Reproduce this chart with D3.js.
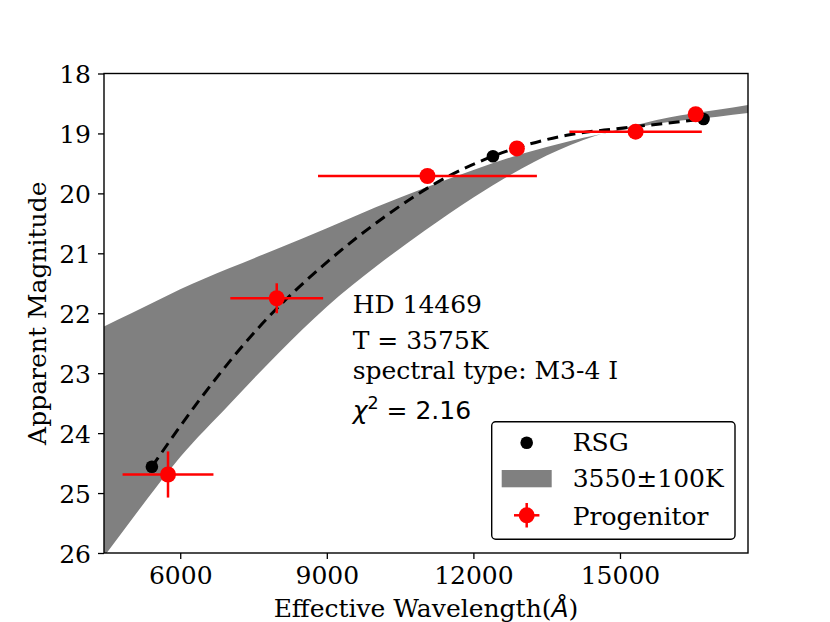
<!DOCTYPE html>
<html>
<head>
<meta charset="utf-8">
<script src="https://cdn.jsdelivr.net/npm/d3@7"></script>
<style>
  body { margin: 0; background: #fff; }
  svg { display: block; font-family: "DejaVu Serif", serif; }
</style>
</head>
<body>
<div id="chart"></div>
<script>
// progenitor photometry (red, with error bars)
const progWave = [5750, 7975, 11060, 12890, 15320, 16550];
const progMag = [24.69, 21.75, 19.71, 19.25, 18.97, 18.68];
const progWaveErr = [930, 950, 2240, 0, 1355, 0];
const progMagErr = [0.385, 0.25, 0, 0, 0, 0];

// RSG photometry (black)
const rsgWave = [5420, 12400, 16710];
const rsgMag = [24.56, 19.38, 18.76];

// dashed fit curve
const fitWave = [5420, 6400, 7560, 9130, 10150, 11450, 12400, 13910, 14930, 15960, 16710];
const fitMag = [24.56, 23.44, 22.28, 21.06, 20.41, 19.73, 19.38, 19.03, 18.92, 18.83, 18.76];

// 3550±100K band, two edges sampled on a common wavelength grid
const bandWave = [4440, 5000, 5500, 6000, 7000, 8000, 9000, 10000, 11000, 12000, 13000, 14000, 14500, 15000, 16000, 17000, 17620];
const bandEdgeA = [22.22, 22.00, 21.80, 21.60, 21.25, 20.92, 20.58, 20.23, 19.91, 19.61, 19.34, 19.12, 19.03, 18.95, 18.81, 18.72, 18.66];
const bandEdgeB = [26.06, 25.45, 24.91, 24.40, 23.525, 22.675, 21.89, 21.225, 20.625, 20.07, 19.58, 19.19, 19.04, 18.93, 18.735, 18.605, 18.525];

const xTicks = [6000, 9000, 12000, 15000];
const yTicks = [18, 19, 20, 21, 22, 23, 24, 25, 26];

const width = 830, height = 622;
const margin = {top: 73.5, right: 82, bottom: 69, left: 104};
const fontSize = 25;

const svg = d3.select('#chart').append('svg')
  .attr('width', width)
  .attr('height', height);

svg.append('rect').attr('width', width).attr('height', height).attr('fill', '#fff');

const x = d3.scaleLinear()
  .domain([4440, 17620])
  .range([margin.left, width - margin.right]);
const y = d3.scaleLinear()
  .domain([18, 26])
  .range([margin.top, height - margin.bottom]);

svg.append('clipPath').attr('id', 'plot-clip')
  .append('rect')
  .attr('x', x.range()[0]).attr('y', y.range()[0])
  .attr('width', x.range()[1] - x.range()[0])
  .attr('height', y.range()[1] - y.range()[0]);

const plot = svg.append('g').attr('clip-path', 'url(#plot-clip)');

//
// Band
//
const band = d3.area()
  .x((d, i) => x(bandWave[i]))
  .y0((d, i) => y(bandEdgeA[i]))
  .y1((d, i) => y(bandEdgeB[i]))
  .curve(d3.curveMonotoneX);

plot.append('path')
  .datum(bandWave)
  .attr('d', band)
  .attr('fill', '#808080');

//
// Dashed fit
//
const fitLine = d3.line()
  .x((d, i) => x(fitWave[i]))
  .y((d, i) => y(fitMag[i]))
  .curve(d3.curveMonotoneX);

plot.append('path')
  .datum(fitWave)
  .attr('d', fitLine)
  .attr('fill', 'none')
  .attr('stroke', '#000')
  .attr('stroke-width', 3)
  .attr('stroke-dasharray', '11,6.5');

//
// RSG points
//
plot.selectAll('.rsg')
  .data(rsgWave)
  .enter().append('circle')
  .attr('class', 'rsg')
  .attr('cx', d => x(d))
  .attr('cy', (d, i) => y(rsgMag[i]))
  .attr('r', 6.3)
  .attr('fill', '#000');

//
// Progenitor with error bars
//
const prog = plot.selectAll('.prog')
  .data(progWave.map((w, i) => ({w, m: progMag[i], xe: progWaveErr[i], ye: progMagErr[i]})))
  .enter().append('g')
  .attr('class', 'prog');

prog.filter(d => d.xe > 0).append('line')
  .attr('x1', d => x(d.w - d.xe))
  .attr('x2', d => x(d.w + d.xe))
  .attr('y1', d => y(d.m))
  .attr('y2', d => y(d.m))
  .attr('stroke', '#ff0000')
  .attr('stroke-width', 2.5);

prog.filter(d => d.ye > 0).append('line')
  .attr('x1', d => x(d.w))
  .attr('x2', d => x(d.w))
  .attr('y1', d => y(d.m - d.ye))
  .attr('y2', d => y(d.m + d.ye))
  .attr('stroke', '#ff0000')
  .attr('stroke-width', 2.5);

prog.append('circle')
  .attr('cx', d => x(d.w))
  .attr('cy', d => y(d.m))
  .attr('r', 8)
  .attr('fill', '#ff0000');

//
// Axes
//
const xAxis = svg.append('g')
  .attr('transform', `translate(0,${y.range()[1]})`)
  .call(d3.axisBottom(x).tickValues(xTicks).tickFormat(d3.format('d')).tickSize(6).tickPadding(6));
const yAxis = svg.append('g')
  .attr('transform', `translate(${x.range()[0]},0)`)
  .call(d3.axisLeft(y).tickValues(yTicks).tickFormat(d3.format('d')).tickSize(6).tickPadding(7));

[xAxis, yAxis].forEach(a => {
  a.select('.domain').remove();
  a.selectAll('.tick line').attr('stroke', '#000').attr('stroke-width', 1.3);
  a.selectAll('.tick text')
    .attr('font-family', '"DejaVu Serif", serif')
    .attr('font-size', fontSize)
    .attr('fill', '#000');
});
yAxis.selectAll('.tick text').attr('dy', '0.36em');
xAxis.selectAll('.tick text').attr('dy', '0.74em');

svg.append('rect')
  .attr('x', x.range()[0]).attr('y', y.range()[0])
  .attr('width', x.range()[1] - x.range()[0])
  .attr('height', y.range()[1] - y.range()[0])
  .attr('fill', 'none')
  .attr('stroke', '#000')
  .attr('stroke-width', 1.4);

// axis titles
const xTitle = svg.append('text')
  .attr('x', (x.range()[0] + x.range()[1]) / 2)
  .attr('y', 617)
  .attr('text-anchor', 'middle')
  .attr('font-size', fontSize);
xTitle.append('tspan').text('Effective Wavelength(');
xTitle.append('tspan').attr('font-family', '"DejaVu Sans", sans-serif').attr('font-style', 'italic').text('Å');
xTitle.append('tspan').text(')');

svg.append('text')
  .attr('transform', `translate(46,${(y.range()[0] + y.range()[1]) / 2}) rotate(-90)`)
  .attr('text-anchor', 'middle')
  .attr('font-size', fontSize)
  .text('Apparent Magnitude');

//
// Annotation
//
const noteX = 352.7;
const notes = [
  {text: 'HD 14469', y: 313},
  {text: 'T = 3575K', y: 349},
  {text: 'spectral type: M3-4 I', y: 379.3}
];
svg.selectAll('.note')
  .data(notes)
  .enter().append('text')
  .attr('class', 'note')
  .attr('x', noteX)
  .attr('y', d => d.y)
  .attr('font-size', fontSize)
  .text(d => d.text);

const chi = svg.append('text')
  .attr('x', noteX)
  .attr('y', 419.3)
  .attr('font-family', '"DejaVu Sans", sans-serif')
  .attr('font-size', fontSize);
chi.append('tspan').attr('font-style', 'italic').text('χ');
chi.append('tspan').attr('font-size', fontSize * 0.7).attr('dy', -10).text('2');
chi.append('tspan').attr('dy', 10).text(' = 2.16');

//
// Legend
//
const legend = svg.append('g');
legend.append('rect')
  .attr('x', 491.7).attr('y', 421.7)
  .attr('width', 243.3).attr('height', 117.6)
  .attr('rx', 4)
  .attr('fill', '#fff')
  .attr('stroke', '#000')
  .attr('stroke-width', 1.4);

const legX = 526.7, legTextX = 572.7;
legend.append('circle').attr('cx', legX).attr('cy', 442.7).attr('r', 6.3).attr('fill', '#000');
legend.append('rect').attr('x', 501.7).attr('y', 470).attr('width', 50).attr('height', 17.3).attr('fill', '#808080');
legend.append('line').attr('x1', legX - 12.7).attr('x2', legX + 12.7).attr('y1', 515.3).attr('y2', 515.3)
  .attr('stroke', '#ff0000').attr('stroke-width', 2.5);
legend.append('line').attr('x1', legX).attr('x2', legX).attr('y1', 503).attr('y2', 527.5)
  .attr('stroke', '#ff0000').attr('stroke-width', 2.5);
legend.append('circle').attr('cx', legX).attr('cy', 515.3).attr('r', 8).attr('fill', '#ff0000');

const legLabels = ['RSG', '3550±100K', 'Progenitor'];
const legBase = [450.7, 486.7, 525];
legend.selectAll('.leg-label')
  .data(legLabels)
  .enter().append('text')
  .attr('class', 'leg-label')
  .attr('x', legTextX)
  .attr('y', (d, i) => legBase[i])
  .attr('font-size', fontSize)
  .text(d => d);
</script>
</body>
</html>
